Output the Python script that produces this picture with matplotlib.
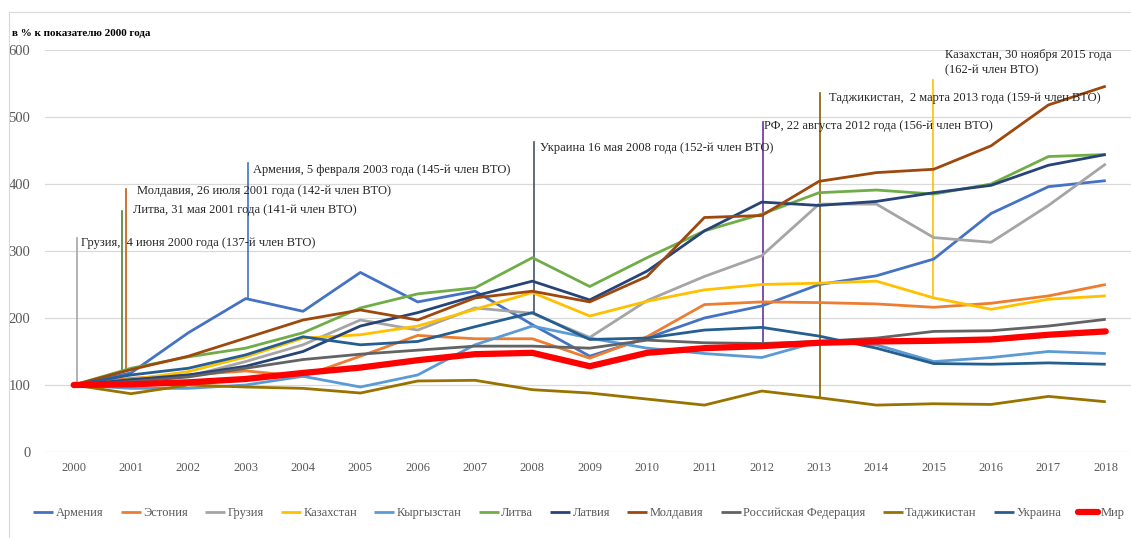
import matplotlib
matplotlib.use("Agg")
import matplotlib.pyplot as plt
from matplotlib.patches import Rectangle

years = list(range(2000, 2019))

armenia    = [100, 118, 178, 229, 210, 268, 224, 240, 190, 143, 170, 200, 218, 250, 263, 288, 356, 396, 405]
estonia    = [100, 110, 115, 121, 113, 143, 174, 169, 169, 140, 172, 220, 224, 223, 221, 216, 222, 233, 250]
georgia    = [100, 105, 113, 135, 160, 197, 182, 215, 207, 171, 226, 262, 293, 370, 370, 320, 313, 368, 430]
kazakhstan = [100, 108, 120, 142, 170, 175, 188, 213, 238, 203, 225, 242, 250, 252, 255, 230, 213, 228, 233]
kyrgyzstan = [100, 95, 95, 100, 113, 97, 115, 160, 188, 170, 155, 147, 141, 165, 160, 135, 141, 150, 147]
lithuania  = [100, 125, 142, 155, 178, 215, 236, 245, 290, 247, 290, 330, 355, 387, 391, 385, 400, 441, 444]
latvia     = [100, 108, 115, 128, 150, 188, 208, 233, 255, 227, 270, 330, 373, 368, 374, 387, 398, 428, 444]
moldova    = [100, 123, 143, 170, 197, 212, 197, 230, 240, 224, 262, 350, 353, 404, 417, 422, 457, 518, 546]
russia     = [100, 105, 112, 125, 138, 146, 152, 158, 158, 155, 167, 163, 162, 165, 170, 180, 181, 188, 198]
tajikistan = [100, 87, 100, 97, 95, 88, 106, 107, 93, 88, 79, 70, 91, 81, 70, 72, 71, 83, 75]
ukraine    = [100, 115, 125, 145, 172, 160, 165, 187, 208, 168, 170, 182, 186, 173, 155, 132, 131, 133, 131]
world      = [100, 101, 104, 109, 118, 126, 137, 146, 148, 128, 148, 155, 158, 163, 165, 166, 168, 175, 180]

series_names = ["Армения", "Эстония", "Грузия", "Казахстан", "Кыргызстан", "Литва", "Латвия",
                "Молдавия", "Российская Федерация", "Таджикистан", "Украина", "Мир"]
series_values = [armenia, estonia, georgia, kazakhstan, kyrgyzstan, lithuania, latvia,
                 moldova, russia, tajikistan, ukraine, world]
series_colors = ["#4472C4", "#ED7D31", "#A5A5A5", "#FFC000", "#5B9BD5", "#70AD47", "#264478",
                 "#9E480E", "#636363", "#997300", "#255E91", "#FF0000"]

# WTO accession annotations
ann_labels = ["Грузия,  4 июня 2000 года (137-й член ВТО)",
              "Литва, 31 мая 2001 года (141-й член ВТО)",
              "Молдавия, 26 июля 2001 года (142-й член ВТО)",
              "Армения, 5 февраля 2003 года (145-й член ВТО)",
              "Украина 16 мая 2008 года (152-й член ВТО)",
              "РФ, 22 августа 2012 года (156-й член ВТО)",
              "Таджикистан,  2 марта 2013 года (159-й член ВТО)",
              "Казахстан, 30 ноября 2015 года\n(162-й член ВТО)"]
ann_x      = [2000.05, 2000.84, 2000.92, 2003.04, 2008.03, 2012.02, 2013.02, 2014.98]
ann_bottom = [100, 120, 122, 230, 208, 163, 82, 233]
ann_top    = [320, 360, 392, 431, 462, 492, 536, 555]
ann_tx     = [2000.12, 2001.03, 2001.10, 2003.12, 2008.13, 2012.04, 2013.17, 2015.19]
ann_ty     = [312, 361, 390, 421, 454, 487, 528, 581]
ann_colors = ["#A5A5A5", "#548235", "#C55A11", "#4472C4", "#44546A", "#7030A0", "#7F6000", "#FFC000"]

serif = ["Liberation Serif", "DejaVu Serif"]
plt.rcParams["font.family"] = serif

W, H = 1131, 538
fig = plt.figure(figsize=(W / 100, H / 100), dpi=100)
# chart frame
fig.patches.append(Rectangle((9 / W, -0.1), 1.2, (H - 12) / H + 0.1, transform=fig.transFigure,
                             fill=False, edgecolor="#D9D9D9", lw=0.8))

ax = fig.add_axes([45 / W, (H - 452) / H, (W - 45) / W, (452 - 50) / H])
ax.set_xlim(1999.5, 2018.44)
ax.set_ylim(0, 600)
ax.set_yticks(range(0, 601, 100))
ax.set_xticks(years)
ax.set_xticklabels([str(y) for y in years])
ax.grid(axis="y", color="#D9D9D9", lw=0.9)
ax.set_axisbelow(True)
for s in ax.spines.values():
    s.set_visible(False)
ax.tick_params(axis="both", length=0, colors="#595959")
ax.tick_params(axis="x", labelsize=9, pad=7)
ax.tick_params(axis="y", labelsize=10.5, pad=10.5)

for i in range(len(ann_labels)):
    ax.plot([ann_x[i], ann_x[i]], [ann_bottom[i], ann_top[i]], color=ann_colors[i], lw=1.2, zorder=1)
    ax.text(ann_tx[i], ann_ty[i], ann_labels[i], fontsize=9, color="#262626",
            va="center", ha="left", zorder=5, linespacing=1.35)

for name, vals, col in zip(series_names, series_values, series_colors):
    lw = 4.5 if name == "Мир" else 2.0
    z = 4 if name == "Мир" else 3
    ax.plot(years, vals, color=col, lw=lw, label=name, zorder=z,
            solid_capstyle="round" if name == "Мир" else "butt")

fig.text(12 / W, 1 - 33 / H, "в % к показателю 2000 года", fontsize=8, fontweight="bold",
         color="#000000", va="center", ha="left")

handles, labels = ax.get_legend_handles_labels()
leg = fig.legend(handles, labels, loc="center", bbox_to_anchor=(579 / W, 1 - 513 / H), ncol=12,
                 frameon=False, fontsize=9, handlelength=1.6, handletextpad=0.2, columnspacing=1.37,
                 labelcolor="#595959")

fig.savefig("out.png", dpi=100)
